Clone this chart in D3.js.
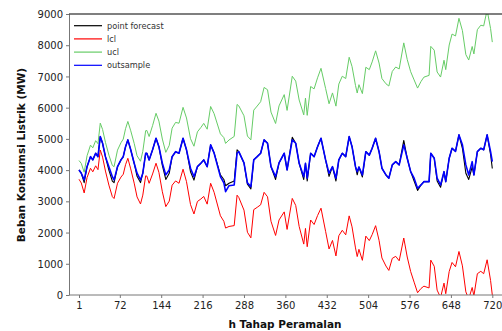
<!DOCTYPE html>
<html>
<head>
<meta charset="utf-8">
<script src="https://cdn.jsdelivr.net/npm/d3@7/dist/d3.min.js"></script>
<style>
  body { margin: 0; background: #fff; }
  .tick text { font-family: "DejaVu Sans", sans-serif; font-size: 10px; fill: #222; }
  .axis path, .axis line { stroke: #777; }
  .legend text { font-family: "DejaVu Sans", sans-serif; font-size: 8.2px; fill: #333; }
  .title { font-family: "DejaVu Sans", sans-serif; font-size: 10.5px; font-weight: bold; fill: #111; }
</style>
</head>
<body>
<svg id="chart" width="502" height="331"></svg>
<script>
// tahap peramalan (h) yang dibaca dari gambar
const hSteps = [
  1, 5, 10, 15, 21, 25, 30, 34, 38, 42,
  47, 53, 59, 62, 68, 74, 78, 82, 86, 91,
  97, 102, 108, 112, 117, 119, 123, 129, 135, 140,
  146, 152, 158, 163, 169, 175, 182, 188, 195, 201,
  207, 213, 218, 224, 230, 236, 247, 253, 256, 262,
  271, 276, 279, 288, 294, 300, 305, 311, 317, 323,
  329, 335, 343, 349, 358, 363, 372, 378, 384, 392,
  395, 398, 404, 410, 416, 422, 430, 436, 442, 448,
  453, 459, 465, 471, 476, 482, 485, 488, 494, 500,
  506, 511, 517, 523, 528, 535, 540, 546, 552, 558,
  566, 572, 578, 584, 590, 596, 601, 610, 613, 619,
  624, 630, 636, 639, 645, 650, 656, 662, 668, 674,
  679, 685, 688, 694, 700, 705, 711, 717, 720
];

const outsample = [
  4006, 3900, 3686, 4110, 4430, 4330, 4540, 4430, 5074, 4860,
  4430, 4110, 3790, 3686, 4110, 4327, 4430, 4750, 4968, 4650,
  4220, 3900, 3686, 3900, 4540, 4540, 4327, 4650, 5020, 4750,
  4220, 3846, 4006, 4430, 4590, 4540, 5020, 4650, 4060, 3790,
  4110, 4220, 4327, 4110, 4808, 4550, 3790, 3590, 3310, 3500,
  3525, 4540, 4590, 4230, 3590, 3470, 4327, 4430, 4540, 4968,
  4860, 4110, 3790, 4230, 4540, 4006, 4968, 4860, 4220, 3790,
  4220, 3740, 4540, 4430, 4750, 5020, 4327, 3900, 4110, 3740,
  4327, 4540, 4430, 5074, 4750, 4110, 3950, 4100, 3846, 4590,
  4480, 4700, 5020, 4590, 4060, 3846, 3740, 4167, 4270, 4167,
  4808, 4380, 3950, 3740, 3420, 3525, 3630, 3630, 4540, 4380,
  3740, 3525, 3950, 3630, 4380, 4700, 4600, 5128, 4808, 4167,
  3846, 4270, 3846, 4590, 4700, 4650, 5128, 4590, 4270
];

const pointForecast = [
  4006, 3900, 3600, 4110, 4430, 4330, 4540, 4430, 5074, 4860,
  4430, 4000, 3650, 3600, 4110, 4327, 4430, 4750, 4968, 4650,
  4220, 3800, 3600, 3900, 4540, 4540, 4327, 4650, 5020, 4750,
  4150, 3700, 3900, 4430, 4590, 4540, 5020, 4650, 3950, 3680,
  4110, 4220, 4327, 4110, 4808, 4550, 3850, 3700, 3500, 3580,
  3650, 4650, 4590, 4230, 3550, 3400, 4327, 4430, 4540, 4968,
  4860, 4110, 3700, 4230, 4540, 4006, 5050, 4860, 4220, 3700,
  4220, 3650, 4540, 4430, 4750, 5020, 4327, 3800, 4110, 3650,
  4327, 4540, 4430, 5074, 4750, 4110, 3850, 4100, 3780, 4590,
  4480, 4700, 5020, 4590, 4060, 3846, 3740, 4167, 4270, 4167,
  4950, 4380, 3950, 3650, 3350, 3525, 3630, 3630, 4540, 4380,
  3650, 3450, 3950, 3630, 4380, 4700, 4600, 5128, 4700, 3900,
  3700, 4100, 3846, 4590, 4700, 4650, 5128, 4500, 4050
];

const ucl = [
  4306, 4214, 3932, 4459, 4800, 4714, 4942, 4846, 5504, 5303,
  4890, 4480, 4150, 4110, 4640, 4877, 4993, 5327, 5558, 5261,
  4857, 4459, 4284, 4601, 5263, 5271, 5076, 5424, 5820, 5570,
  4994, 4569, 4793, 5343, 5527, 5502, 6010, 5670, 5005, 4765,
  5225, 5365, 5497, 5310, 6038, 5809, 5162, 5041, 4856, 4965,
  5078, 6103, 6057, 5741, 5090, 4969, 5920, 6052, 6191, 6648,
  6574, 5858, 5493, 6057, 6418, 5912, 7007, 6851, 6245, 5770,
  6307, 5754, 6678, 6602, 6956, 7260, 6616, 6125, 6472, 6049,
  6756, 7007, 6933, 7614, 7318, 6712, 6469, 6736, 6450, 7294,
  7218, 7466, 7820, 7430, 6933, 6765, 6693, 7160, 7302, 7239,
  8075, 7543, 7151, 6889, 6627, 6840, 6977, 7034, 7963, 7841,
  7143, 6981, 7519, 7218, 8006, 8358, 8296, 8862, 8467, 7699,
  7526, 7959, 7721, 8498, 8641, 8618, 9128, 8534, 8100
];

const lcl = [
  3706, 3586, 3268, 3761, 4060, 3946, 4138, 4014, 4644, 4417,
  3970, 3520, 3150, 3090, 3580, 3777, 3867, 4173, 4378, 4039,
  3583, 3141, 2916, 3199, 3817, 3809, 3578, 3876, 4220, 3930,
  3306, 2831, 3007, 3517, 3653, 3578, 4030, 3630, 2895, 2595,
  2995, 3075, 3157, 2910, 3578, 3291, 2538, 2359, 2144, 2195,
  2222, 3197, 3123, 2719, 2010, 1831, 2734, 2808, 2889, 3288,
  3146, 2362, 1907, 2403, 2662, 2100, 3093, 2869, 2195, 1630,
  2133, 1546, 2402, 2258, 2544, 2780, 2038, 1475, 1748, 1251,
  1898, 2073, 1927, 2534, 2182, 1508, 1231, 1464, 1110, 1886,
  1742, 1934, 2220, 1750, 1187, 927, 787, 1174, 1238, 1095,
  1825, 1217, 749, 411, 73, 210, 283, 226, 1117, 919,
  157, -81, 381, 42, 754, 1042, 904, 1394, 933, 101,
  -126, 241, -29, 682, 759, 682, 1128, 466, 0
];

const xTicks = [1, 72, 144, 216, 288, 360, 432, 504, 576, 648, 720];
const yTicks = [0, 1000, 2000, 3000, 4000, 5000, 6000, 7000, 8000, 9000];
const seriesNames = ['point forecast', 'lcl', 'ucl', 'outsample'];
const seriesColors = ['#000000', '#ff0000', '#66cc66', '#0000ff'];
const seriesWidths = [1.1, 1, 1, 1.6];

const plot = { left: 69, right: 502, top: 14, bottom: 295 };

const svg = d3.select('#chart');

const x = d3.scaleLinear().domain([1, 720]).range([79, 492.3]);
const y = d3.scaleLinear().domain([0, 9000]).range([plot.bottom, plot.top]);

svg.append('clipPath').attr('id', 'clip')
  .append('rect')
  .attr('x', plot.left).attr('y', plot.top)
  .attr('width', plot.right - plot.left).attr('height', plot.bottom - plot.top);

// garis data
const line = d3.line()
  .x((d, i) => x(hSteps[i]))
  .y(d => y(d));

const allSeries = [pointForecast, lcl, ucl, outsample];
const lines = svg.append('g').attr('clip-path', 'url(#clip)');
[1, 2, 0, 3].forEach(k => {
  lines.append('path')
    .attr('d', line(allSeries[k]))
    .attr('fill', 'none')
    .attr('stroke', seriesColors[k])
    .attr('stroke-width', seriesWidths[k])
    .attr('stroke-linejoin', 'round');
});

// sumbu Y
svg.append('g')
  .attr('class', 'axis')
  .attr('transform', `translate(${plot.left},0)`)
  .call(d3.axisLeft(y).tickValues(yTicks).tickFormat(d3.format('d'))
    .tickSize(3).tickSizeOuter(0).tickPadding(3))
  .call(g => g.selectAll('.tick text').attr('dy', '0.36em'));

// sumbu X
const xAxis = svg.append('g')
  .attr('class', 'axis')
  .attr('transform', `translate(0,${plot.bottom})`)
  .call(d3.axisBottom(x).tickValues(xTicks).tickFormat(d3.format('d'))
    .tickSize(3).tickSizeOuter(0).tickPadding(4));
xAxis.select('.domain').remove();
xAxis.append('line')
  .attr('x1', plot.left).attr('x2', plot.right)
  .attr('y1', 0).attr('y2', 0)
  .attr('stroke', '#777');

// garis tepi atas
svg.append('line')
  .attr('x1', plot.left).attr('x2', plot.right)
  .attr('y1', plot.top).attr('y2', plot.top)
  .attr('stroke', '#000').attr('stroke-width', 1.2);

// legenda
const legend = svg.append('g').attr('class', 'legend');
seriesNames.forEach((name, i) => {
  const ly = 25.7 + i * 13.2;
  legend.append('line')
    .attr('x1', 74).attr('x2', 102)
    .attr('y1', ly).attr('y2', ly)
    .attr('stroke', seriesColors[i])
    .attr('stroke-width', 1.2);
  legend.append('text')
    .attr('x', 107).attr('y', ly)
    .attr('dy', '0.35em')
    .text(name);
});

// judul sumbu
svg.append('text')
  .attr('class', 'title')
  .attr('x', 285).attr('y', 328)
  .attr('text-anchor', 'middle')
  .text('h Tahap Peramalan');

svg.append('text')
  .attr('class', 'title')
  .attr('transform', 'translate(25,155) rotate(-90)')
  .attr('text-anchor', 'middle')
  .text('Beban Konsumsi Listrik (MW)');
</script>
</body>
</html>
